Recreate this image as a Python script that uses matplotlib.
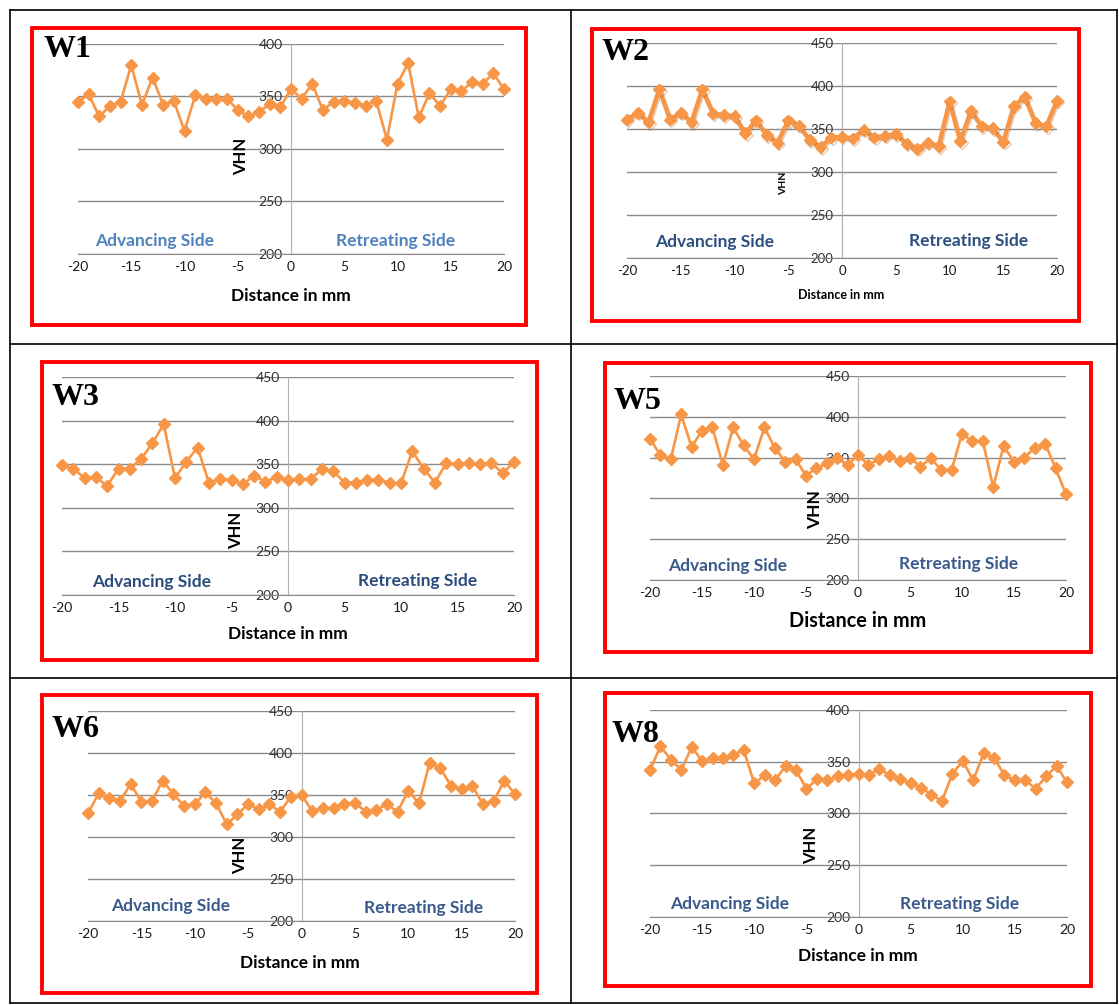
import numpy as np
import matplotlib.pyplot as plt
import matplotlib.patheffects as pe
from matplotlib.patches import Rectangle
from matplotlib.lines import Line2D

plt.rcParams['axes.unicode_minus'] = False

W, H = 1119, 1005

# hardness traverse, one reading per mm from -20 to 20
dist = np.arange(-20, 21)

w1 = [345, 352, 331, 341, 345, 380, 342, 368, 342, 346, 317, 351, 348, 348, 348, 337, 331, 335, 343, 340,
      357, 348, 362, 337, 345, 346, 344, 341, 346, 309, 362, 382, 330, 353, 341, 357, 355, 364, 362, 372, 357]
w2 = [361, 369, 358, 396, 361, 369, 358, 396, 368, 366, 365, 345, 360, 343, 334, 360, 354, 337, 329, 340,
      341, 339, 349, 340, 342, 344, 333, 327, 334, 330, 382, 336, 371, 353, 351, 335, 377, 387, 357, 353, 383]
w3 = [349, 345, 334, 335, 325, 345, 345, 356, 374, 396, 334, 353, 369, 329, 333, 332, 327, 337, 330, 335,
      332, 333, 333, 344, 342, 329, 329, 332, 332, 329, 328, 365, 345, 329, 351, 350, 351, 350, 351, 340, 352]
w5 = [373, 353, 348, 403, 363, 383, 387, 341, 387, 365, 348, 387, 362, 345, 348, 328, 337, 343, 349, 341,
      353, 341, 348, 352, 346, 350, 339, 349, 335, 335, 379, 370, 370, 314, 364, 345, 350, 362, 367, 337, 305]
w6 = [328, 352, 346, 343, 363, 342, 343, 367, 351, 337, 339, 353, 340, 315, 327, 339, 333, 339, 330, 348,
      350, 331, 334, 334, 339, 341, 330, 332, 339, 330, 355, 340, 388, 382, 361, 357, 361, 339, 343, 367, 351]
w8 = [342, 365, 352, 342, 364, 351, 354, 354, 357, 361, 329, 337, 332, 346, 342, 324, 333, 332, 336, 337,
      338, 337, 343, 337, 333, 329, 325, 318, 312, 338, 351, 332, 358, 354, 337, 332, 332, 324, 336, 346, 330]

xticks = [-20, -15, -10, -5, 0, 5, 10, 15, 20]

ORANGE = '#f79646'
GRID = '#8a8a8a'
SANS = ['Lato', 'DejaVu Sans']

fig = plt.figure(figsize=(W / 100, H / 100), dpi=100)


def fx(px):
    return px / W


def fy(py):
    return 1 - py / H


def add_text(x, y, s, **kw):
    fig.text(fx(x), fy(y), s, **kw)


# table rules
for x0, y0, x1, y1 in [(10, 10, 1117, 10), (10, 1003, 1117, 1003), (10, 10, 10, 1003),
                       (1117, 10, 1117, 1003), (571, 10, 571, 1003),
                       (10, 344, 1117, 344), (10, 678, 1117, 678)]:
    fig.add_artist(Line2D([fx(x0), fx(x1)], [fy(y0), fy(y1)], color='black', lw=1.2))


def panel(name, vals, ymax, box, axbox, tag, vhn, dlab, adv, ret, side_color,
          tick_fs=10, dist_fs=12.5, vhn_fs=12, side_fs=12.5, lw=1.9, shadow=False):
    bx0, by0, bx1, by1 = box
    fig.add_artist(Rectangle((fx(bx0), fy(by1)), (bx1 - bx0) / W, (by1 - by0) / H,
                             transform=fig.transFigure, fill=False, ec='#ff0000', lw=2.8))

    ax0, ay0, ax1, ay1 = axbox
    ax = fig.add_axes([fx(ax0), fy(ay1), (ax1 - ax0) / W, (ay1 - ay0) / H])
    ax.set_xlim(-20, 20)
    ax.set_ylim(200, ymax)
    ax.set_yticks(np.arange(200, ymax + 1, 50))
    ax.set_xticks(xticks)
    ax.set_facecolor('none')
    ax.grid(axis='y', color=GRID, lw=1.0)
    ax.set_axisbelow(True)
    for s in ['top', 'right']:
        ax.spines[s].set_visible(False)
    ax.spines['left'].set_position(('data', 0))
    ax.spines['left'].set_color('#b0b0b0')
    ax.spines['bottom'].set_color(GRID)
    ax.tick_params(axis='y', length=0, pad=6, labelsize=tick_fs, labelcolor='#333333')
    ax.tick_params(axis='x', length=0, pad=5, labelsize=tick_fs, labelcolor='#1a1a1a')
    for lab in ax.get_xticklabels() + ax.get_yticklabels():
        lab.set_family(SANS)

    line, = ax.plot(dist, vals, color=ORANGE, lw=lw, marker='D', ms=6,
                    mec=ORANGE, mfc=ORANGE, clip_on=False, zorder=3)
    if shadow:
        line.set_path_effects([pe.SimpleLineShadow(offset=(1, -1.2), shadow_color='#a05a1e', alpha=0.3),
                               pe.Normal()])

    add_text(tag[0], tag[1], name, family=['Liberation Serif', 'DejaVu Serif'], fontweight='bold',
             fontsize=23, ha='left', va='baseline')
    add_text(vhn[0], vhn[1], 'VHN', family=SANS, fontweight='bold', fontsize=vhn_fs,
             rotation=90, ha='center', va='center')
    add_text(dlab[0], dlab[1], 'Distance in mm', family=SANS, fontweight='bold', fontsize=dist_fs,
             ha='center', va='center')
    add_text(adv[0], adv[1], 'Advancing Side', family=SANS, fontweight='bold', fontsize=side_fs,
             color=side_color, ha='center', va='center')
    add_text(ret[0], ret[1], 'Retreating Side', family=SANS, fontweight='bold', fontsize=side_fs,
             color=side_color, ha='center', va='center')


panel('W1', w1, 400, (32, 28, 526, 325), (78, 44, 504, 254), (43, 57), (241, 156), (291, 296),
      (155, 241), (396, 241), '#4f81bd')
panel('W2', w2, 450, (592, 29, 1079, 321), (627, 43, 1057, 258), (601, 60), (784, 183), (841, 295),
      (715, 242), (969, 241), '#2c4f80', tick_fs=9.5, dist_fs=9, vhn_fs=7.5, lw=3.2, shadow=True)
panel('W3', w3, 450, (42, 362, 537, 660), (62, 377, 514, 595), (52, 405), (236, 530), (288, 634),
      (152, 582), (418, 581), '#2a4c7d')
panel('W5', w5, 450, (605, 363, 1091, 652), (650, 376, 1066, 580), (613, 409), (815, 510), (858, 621),
      (728, 566), (959, 564), '#3a5a8c', dist_fs=14.3, vhn_fs=12.5)
panel('W6', w6, 450, (42, 695, 537, 993), (88, 711, 515, 921), (52, 737), (240, 855), (300, 963),
      (171, 906), (424, 908), '#3a5a8c')
panel('W8', w8, 400, (605, 693, 1091, 986), (650, 710, 1067, 917), (612, 742), (811, 845), (858, 956),
      (730, 904), (960, 904), '#3a5a8c')

fig.savefig('out.png', dpi=100, facecolor='white')
